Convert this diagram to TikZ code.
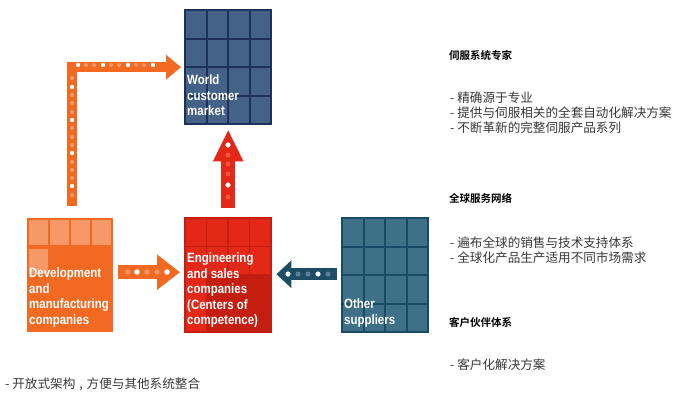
\documentclass[tikz,border=0pt]{standalone}
\usepackage{fontspec}
\setmainfont{Liberation Sans}
\newfontfamily\cnfont{Noto Sans CJK SC}[BoldFont={Noto Sans CJK SC Bold}]
\newfontfamily\boxfont{Liberation Sans Bold}[FakeStretch=0.85]
\usetikzlibrary{arrows.meta}
\definecolor{orng}{RGB}{242,106,34}
\definecolor{orngL}{RGB}{247,152,104}
\definecolor{redA}{RGB}{228,40,24}
\definecolor{redD}{RGB}{196,30,16}
\definecolor{redL}{RGB}{244,84,62}
\definecolor{navyC}{RGB}{68,97,136}
\definecolor{navyL}{RGB}{28,50,92}
\definecolor{tealC}{RGB}{62,112,136}
\definecolor{tealL}{RGB}{24,76,102}
\definecolor{tealA}{RGB}{30,78,102}
\definecolor{tealDot}{RGB}{90,130,150}
\definecolor{txt}{RGB}{55,55,55}
\tikzset{
  boxnode/.style={minimum width=86pt,minimum height=114pt,inner sep=0pt,anchor=north west},
  boxtext/.style={anchor=north west,inner sep=0pt,align=left,text=white,
    font=\boxfont\fontsize{13.5}{15.5}\selectfont},
  head/.style={anchor=west,inner sep=0pt,text=black,font=\cnfont\bfseries\fontsize{10.5}{12}\selectfont},
  bullets/.style={anchor=west,inner sep=0pt,align=left,text=txt,font=\cnfont\fontsize{12.6}{15}\selectfont},
  wdot/.style={fill=white},
}
\begin{document}
\begin{tikzpicture}[x=1pt,y=-1pt]
\useasboundingbox (0,0) rectangle (675,394);
% ---------- boxes ----------
\node[boxnode,fill=navyC] (world) at (185,10) {};
\node[boxnode,fill=orng] (dev) at (27,218) {};
\node[boxnode,fill=redA] (eng) at (185,218) {};
\node[boxnode,fill=tealC] (other) at (342,218) {};
% world grid
\begin{scope}[shift={(world.north west)}]
  \draw[navyL,line width=2pt] (0,0) rectangle (86,114);
  \foreach \i in {1,2,3} \draw[navyL,line width=2pt] (\i*21.5,0) -- (\i*21.5,114);
  \foreach \j in {1,2,3} \draw[navyL,line width=2pt] (0,\j*28.5) -- (86,\j*28.5);
\end{scope}
% other grid
\begin{scope}[shift={(other.north west)}]
  \draw[tealL,line width=2pt] (0,0) rectangle (86,114);
  \foreach \i in {1,2,3} \draw[tealL,line width=2pt] (\i*21.5,0) -- (\i*21.5,114);
  \foreach \j in {1,2,3} \draw[tealL,line width=2pt] (0,\j*28.5) -- (86,\j*28.5);
\end{scope}
% development cells
\begin{scope}[shift={(dev.north west)}]
  \foreach \i in {0,1,2,3} \fill[orngL] (2+\i*21,2) rectangle (21+\i*21,27);
  \fill[orngL] (2,30.5) rectangle (21,55.5);
\end{scope}
% engineering cells
\begin{scope}[shift={(eng.north west)}]
  \fill[redD] (21.5,57) rectangle (86,114);
  \draw[redD,line width=1.5pt] (0,0) rectangle (86,114);
  \foreach \i in {1,2,3} \draw[redD,line width=1.5pt] (\i*21.5,0) -- (\i*21.5,57);
  \foreach \j in {1,2} \draw[redD,line width=1.5pt] (0,\j*28.5) -- (86,\j*28.5);
  \draw[redD,line width=1.5pt] (21.5,57) -- (21.5,114);
\end{scope}
% box texts
\node[boxtext] (worldtxt) at (187,75) {World\\customer\\market};
\node[boxtext] (devtxt) at (29,268) {Development\\and\\manufacturing\\companies};
\node[boxtext] (engtxt) at (187,253) {Engineering\\and sales\\companies\\(Centers of\\competence)};
\node[boxtext] (othertxt) at (344,299) {Other\\suppliers};
% ---------- arrows ----------
% orange L arrow
\draw[orng,line width=10pt,line join=miter,
  -{Triangle[width=24pt,length=15pt]}]
  ([xshift=2pt,yshift=12pt]dev.north) |- ([xshift=-4pt]world.west);
\foreach \x in {86,111,136} \fill[orngL] (\x,65) circle (2pt);
\foreach \x in {94,119,144} \fill[orngL] (\x,65) circle (2pt);
\foreach \x in {78,103,128,153} \fill[wdot] (\x,65) circle (2.2pt);
\foreach \y in {78,95,103,112,128,137,145,162,170,178,195} \fill[orngL] (72,\y) circle (2pt);
\foreach \y in {87,120,153,186} \fill[wdot] (72,\y) circle (2.2pt);
% red up arrow
\draw[redA,line width=14pt,-{Triangle[width=28pt,length=32pt]}]
  ([yshift=10pt]eng.north) -- ([yshift=-5pt]world.south);
\foreach \y in {155,164,174,197} \fill[redL] (228,\y) circle (2.5pt);
\foreach \y in {145,185} \fill[wdot] (228,\y) circle (2.6pt);
% orange right arrow
\draw[orng,line width=14pt,-{Triangle[width=34pt,length=23pt]}]
  ([xshift=5pt,yshift=3pt]dev.east) -- ([xshift=-5pt,yshift=3pt]eng.west);
\foreach \x in {128,147,157} \fill[orngL] (\x,272) circle (2.6pt);
\foreach \x in {137,167} \fill[wdot] (\x,272) circle (2.8pt);
% teal left arrow
\draw[tealA,line width=12pt,-{Triangle[width=27pt,length=15pt]}]
  ([xshift=-5pt,yshift=1pt]other.west) -- ([xshift=5pt,yshift=1pt]eng.east);
\foreach \x in {298,308,328} \fill[tealDot] (\x,274) circle (2.5pt);
\foreach \x in {288,318} \fill[wdot] (\x,274) circle (2.6pt);
% ---------- right-hand text ----------
\node[head] (h1) at (449,55) {伺服系统专家};
\node[bullets] (b1) at (450,112.5) {- 精确源于专业\\- 提供与伺服相关的全套自动化解决方案\\- 不断革新的完整伺服产品系列};
\node[head] (h2) at (449,198) {全球服务网络};
\node[bullets] (b2) at (450,250) {- 遍布全球的销售与技术支持体系\\- 全球化产品生产适用不同市场需求};
\node[head] (h3) at (449,322) {客户伙伴体系};
\node[bullets] (b3) at (450,365) {- 客户化解决方案};
\node[bullets] (b4) at (5,384) {- 开放式架构\makebox[0.9em][c]{,}方便与其他系统整合};
\end{tikzpicture}
\end{document}
